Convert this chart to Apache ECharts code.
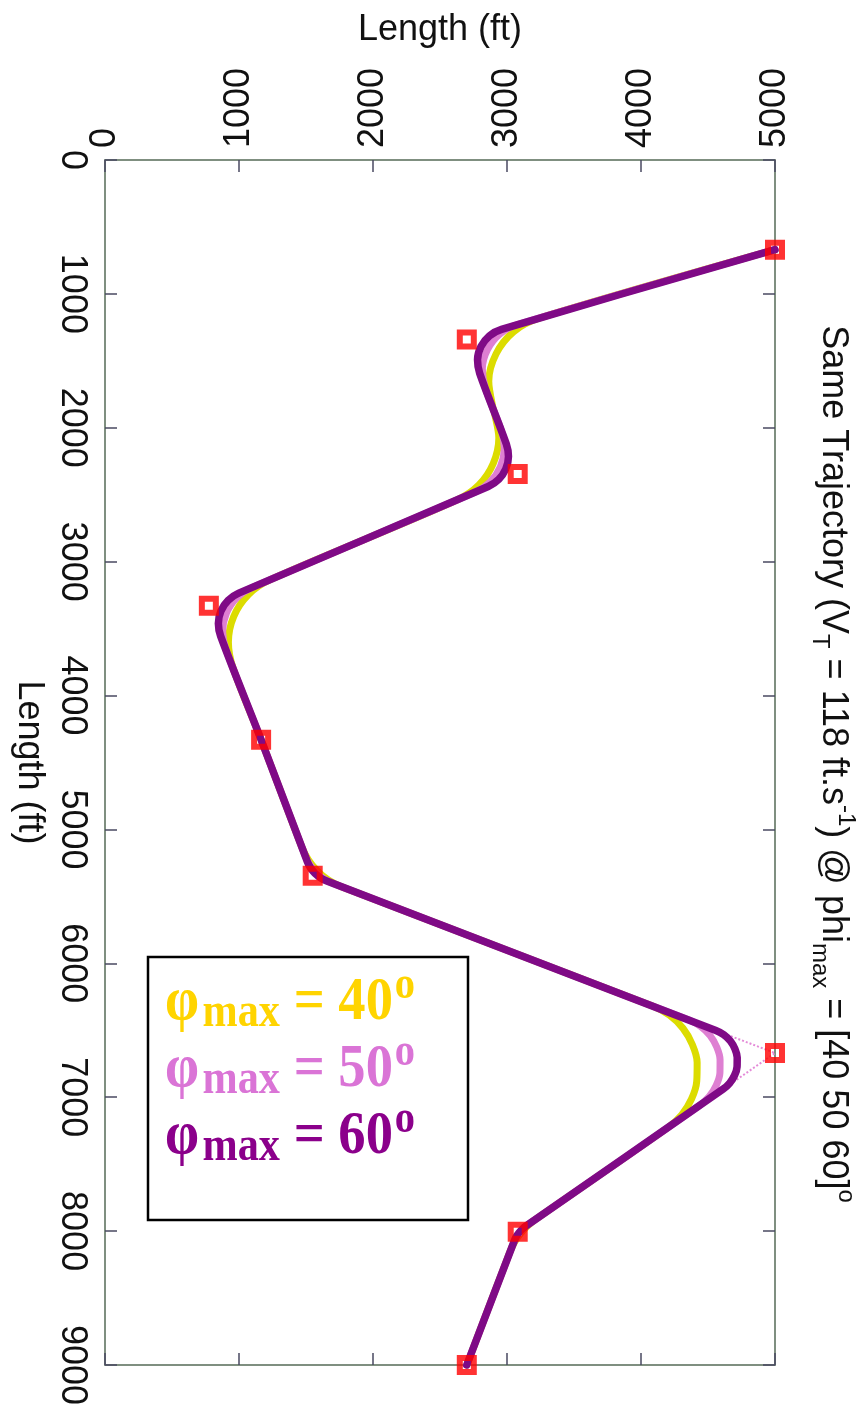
<!DOCTYPE html>
<html>
<head>
<meta charset="utf-8">
<script src="https://cdn.jsdelivr.net/npm/echarts@6/dist/echarts.min.js"></script>
<style>
  html, body { margin: 0; padding: 0; background: #ffffff; }
  #chart { width: 863px; height: 1410px; }
</style>
</head>
<body>
<div id="chart"></div>
<script>
// Points are [along-track length, cross-track length] in ft.
// Along-track runs down the page (0..9000), cross-track runs left to right (0..5000).
const waypoints = [
  [670, 5000], [1340, 2700], [2345, 3080], [3330, 775], [4330, 1165],
  [5345, 1550], [6670, 5000], [8005, 3080], [9000, 2700]
];

// Flown trajectory for phi_max = 40 deg
const path40 = [
  [670, 5000],
  [1184, 3234], [1283, 3049], [1449, 2918], [1653, 2864], [1861, 2897],
  [1883, 2905], [2076, 2939], [2267, 2897], [2429, 2788], [2539, 2626],
  [3134, 1234], [3245, 1071], [3408, 961], [3601, 921], [3795, 956],
  [4330, 1165],
  [5130, 1468], [5226, 1517], [5310, 1585], [5379, 1669], [5428, 1765],
  [6321, 4091], [6388, 4213], [6485, 4313], [6606, 4383], [6740, 4419],
  [6880, 4416], [7013, 4377], [7132, 4303], [7226, 4201],
  [7914, 3210], [7963, 3151], [8020, 3099], [8084, 3056], [8153, 3023],
  [9000, 2700]
];

// Flown trajectory for phi_max = 50 deg
const path50 = [
  [670, 5000],
  [1230, 3077], [1300, 2946], [1417, 2854], [1560, 2816], [1707, 2839],
  [2019, 2957], [2155, 2980], [2290, 2951], [2405, 2874], [2482, 2760],
  [3192, 1099], [3270, 984], [3385, 906], [3521, 878], [3658, 903],
  [4330, 1165],
  [5193, 1492], [5261, 1527], [5321, 1575], [5369, 1634], [5403, 1702],
  [6424, 4359], [6471, 4445], [6540, 4516], [6625, 4565], [6720, 4590],
  [6818, 4589], [6912, 4561], [6995, 4509], [7062, 4437],
  [7941, 3172], [7975, 3130], [8015, 3093], [8061, 3063], [8110, 3040],
  [9000, 2700]
];

// Flown trajectory for phi_max = 60 deg
const path60 = [
  [670, 5000],
  [1265, 2959], [1313, 2869], [1393, 2806], [1492, 2780], [1593, 2796],
  [2121, 2995], [2214, 3011], [2307, 2991], [2386, 2938], [2439, 2860],
  [3235, 998], [3289, 919], [3368, 865], [3462, 846], [3556, 863],
  [4330, 1165],
  [5240, 1510], [5287, 1534], [5328, 1567], [5361, 1608], [5385, 1655],
  [6501, 4559], [6533, 4618], [6580, 4667], [6639, 4701], [6704, 4718],
  [6772, 4717], [6837, 4698], [6894, 4662], [6940, 4612],
  [7961, 3143], [7985, 3114], [8012, 3089], [8043, 3068], [8077, 3053],
  [9000, 2700]
];

// Thin reference legs into the sharpest waypoint
const cornerGuide = [[6501, 4559], [6670, 5000], [6940, 4612]];

const angleLabels = ['40', '50', '60'];
const curveColors = ['#dcdc00', '#de7fd2', '#7f0a86'];
const legendColors = ['#ffd400', '#da74d6', '#8b008b'];

const alongRange = [0, 9000];
const acrossRange = [0, 5000];
const tickStep = 1000;

const sansFont = '"Liberation Sans", Arial, Helvetica, sans-serif';
const serifFont = '"Liberation Serif", "Times New Roman", serif';

const toXY = pts => pts.map(p => [p[1], p[0]]);
const plainNumber = v => String(v);

const frameLine = { show: true, onZero: false, lineStyle: { color: '#7f8f80', width: 2 } };
const frameTick = { show: true, inside: true, length: 12, lineStyle: { color: '#4a4a62', width: 1.5 } };

const chart = echarts.init(document.getElementById('chart'), null, { renderer: 'canvas' });

function pathSeries(name, pts, color, width) {
  return {
    name: name,
    type: 'line',
    data: toXY(pts),
    xAxisIndex: 0,
    yAxisIndex: 0,
    showSymbol: false,
    symbol: 'none',
    smooth: 0.3,
    clip: false,
    lineStyle: { color: color, width: width, cap: 'round', join: 'round' },
    emphasis: { disabled: true },
    silent: true
  };
}

const legendItems = angleLabels.map((a, i) => ({
  type: 'text',
  x: 165,
  y: 1003 + 67 * i,
  scaleX: 0.88,
  style: {
    text: 'φ{sub|max} = ' + a + '{sup|o}',
    fontFamily: serifFont,
    fontWeight: 'bold',
    fontSize: 62,
    fill: legendColors[i],
    align: 'left',
    verticalAlign: 'middle',
    rich: {
      sub: { fontFamily: serifFont, fontWeight: 'bold', fontSize: 48, fill: legendColors[i], padding: [22, 0, 0, 4] },
      sup: { fontFamily: serifFont, fontWeight: 'bold', fontSize: 46, fill: legendColors[i], padding: [0, 0, 34, 2] }
    }
  }
}));

const option = {
  animation: false,
  backgroundColor: '#ffffff',
  grid: { left: 105, top: 160, right: 88, bottom: 45, containLabel: false, outerBoundsMode: 'none' },
  xAxis: [
    {
      type: 'value', position: 'top', min: acrossRange[0], max: acrossRange[1], interval: tickStep,
      name: 'Length (ft)', nameLocation: 'middle', nameGap: 112, nameMoveOverlap: false,
      nameTextStyle: { fontSize: 36, color: '#111111', fontFamily: sansFont },
      axisLine: frameLine, axisTick: frameTick,
      axisLabel: { rotate: -90, fontSize: 36, margin: 12, color: '#111111', fontFamily: sansFont, formatter: plainNumber },
      splitLine: { show: false }
    },
    {
      type: 'value', position: 'bottom', min: acrossRange[0], max: acrossRange[1], interval: tickStep,
      axisLine: frameLine, axisTick: frameTick, axisLabel: { show: false }, splitLine: { show: false }
    }
  ],
  yAxis: [
    {
      type: 'value', position: 'left', inverse: true, min: alongRange[0], max: alongRange[1], interval: tickStep,
      name: 'Length (ft)', nameLocation: 'middle', nameRotate: -90, nameGap: 58, nameMoveOverlap: false,
      nameTextStyle: { fontSize: 36, color: '#111111', fontFamily: sansFont },
      axisLine: frameLine, axisTick: frameTick,
      axisLabel: { rotate: -90, fontSize: 36, margin: 15, color: '#111111', fontFamily: sansFont, formatter: plainNumber },
      splitLine: { show: false }
    },
    {
      type: 'value', position: 'right', inverse: true, min: alongRange[0], max: alongRange[1], interval: tickStep,
      axisLine: frameLine, axisTick: frameTick, axisLabel: { show: false }, splitLine: { show: false }
    }
  ],
  series: [
    pathSeries('phi 40', path40, curveColors[0], 7),
    pathSeries('phi 50', path50, curveColors[1], 7),
    {
      name: 'guide',
      type: 'line',
      data: toXY(cornerGuide),
      showSymbol: false,
      symbol: 'none',
      clip: false,
      silent: true,
      lineStyle: { color: '#e48bd8', width: 2, type: 'dotted' }
    },
    pathSeries('phi 60', path60, curveColors[2], 7.5),
    {
      name: 'waypoints',
      type: 'scatter',
      data: toXY(waypoints),
      symbol: 'rect',
      symbolSize: 14,
      clip: false,
      silent: true,
      z: 5,
      itemStyle: { color: 'rgba(255,255,255,0)', borderColor: '#ff0000', borderWidth: 6 }
    }
  ],
  graphic: [
    {
      type: 'text',
      x: 833,
      y: 764,
      rotation: -Math.PI / 2,
      style: {
        text: 'Same Trajectory (V{sub|T} = 118 ft.s{sup|-1}) @ phi{sub|max} = [40 50 60]{sup|o}',
        fontFamily: sansFont,
        fontSize: 36,
        fill: '#111111',
        align: 'center',
        verticalAlign: 'middle',
        rich: {
          sub: { fontFamily: sansFont, fontSize: 24, fill: '#111111', padding: [26, 0, 0, 0] },
          sup: { fontFamily: sansFont, fontSize: 24, fill: '#111111', padding: [0, 0, 26, 0] }
        }
      }
    },
    {
      type: 'group',
      children: [
        {
          type: 'rect',
          shape: { x: 148, y: 957, width: 320, height: 263 },
          style: { fill: '#ffffff', stroke: '#000000', lineWidth: 2.5 },
          z: 100
        }
      ].concat(legendItems.map(t => Object.assign({ z: 101 }, t)))
    }
  ]
};

chart.setOption(option);
</script>
</body>
</html>
